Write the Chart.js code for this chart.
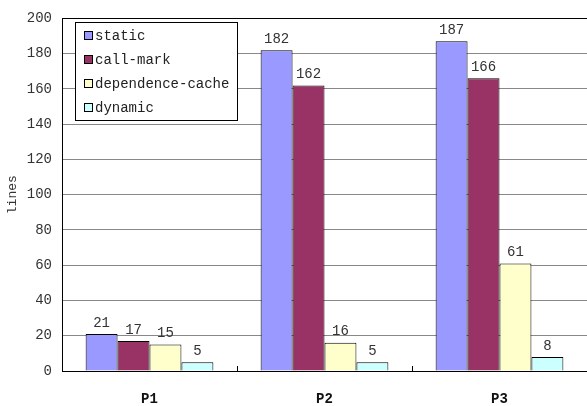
<!DOCTYPE html>
<html>
<head>
<meta charset="utf-8">
<script src="https://cdn.jsdelivr.net/npm/chart.js@4/dist/chart.umd.min.js"></script>
<style>
  html, body { margin: 0; padding: 0; background: #fff; }
  #wrap { width: 587px; height: 406px; }
</style>
</head>
<body>
<div id="wrap"><canvas id="linesChart"></canvas></div>
<script>
const categories = ["P1", "P2", "P3"];
const seriesNames = ["static", "call-mark", "dependence-cache", "dynamic"];
const staticLines = [21, 182, 187];
const callMarkLines = [17, 162, 166];
const depCacheLines = [15, 16, 61];
const dynamicLines = [5, 5, 8];
const colors = ["#9999FF", "#993366", "#FFFFCC", "#CCFFFF"];
const yTicks = [0, 20, 40, 60, 80, 100, 120, 140, 160, 180, 200];

const FONT = "'Liberation Mono', 'DejaVu Sans Mono', monospace";

// values above each bar
const valueLabels = {
    id: "valueLabels",
    afterDatasetsDraw(chart) {
        const ctx = chart.ctx;
        ctx.save();
        ctx.font = "14px " + FONT;
        ctx.fillStyle = "#333";
        ctx.textAlign = "center";
        ctx.textBaseline = "bottom";
        chart.data.datasets.forEach((ds, i) => {
            chart.getDatasetMeta(i).data.forEach((bar, j) => {
                ctx.fillText(String(ds.data[j]), bar.x, bar.y - 4);
            });
        });
        ctx.restore();
    }
};

// small ticks between categories, legend box inside plot
const extras = {
    id: "extras",
    afterDraw(chart) {
        const ctx = chart.ctx;
        const area = chart.chartArea;
        ctx.save();
        ctx.strokeStyle = "#000";
        ctx.lineWidth = 1;
        const step = (area.right - area.left) / categories.length;
        for (let i = 1; i < categories.length; i++) {
            const x = Math.round(area.left + step * i) + 0.5;
            ctx.beginPath();
            ctx.moveTo(x, area.bottom);
            ctx.lineTo(x, area.bottom - 5);
            ctx.stroke();
        }

        // legend
        const lx = 75, ly = 22, lw = 162, lh = 98;
        ctx.fillStyle = "#fff";
        ctx.fillRect(lx, ly, lw, lh);
        ctx.strokeStyle = "#000";
        ctx.strokeRect(lx + 0.5, ly + 0.5, lw, lh);
        ctx.font = "14px " + FONT;
        ctx.textBaseline = "middle";
        ctx.textAlign = "left";
        chart.data.datasets.forEach((ds, i) => {
            const y = ly + 13 + i * 24;
            ctx.fillStyle = ds.backgroundColor;
            ctx.fillRect(84, y - 4, 8, 8);
            ctx.strokeStyle = "#000";
            ctx.strokeRect(84.5, y - 3.5, 8, 8);
            ctx.fillStyle = "#222";
            ctx.fillText(ds.label, 95, y + 1);
        });
        ctx.restore();
    }
};

const allSeries = [staticLines, callMarkLines, depCacheLines, dynamicLines];

new Chart(document.getElementById("linesChart"), {
    type: "bar",
    data: {
        labels: categories,
        datasets: seriesNames.map((name, i) => ({
            label: name,
            data: allSeries[i],
            backgroundColor: colors[i],
            borderColor: "#000",
            borderWidth: 1,
            borderSkipped: "bottom",
            categoryPercentage: 0.73,
            barPercentage: 1.0
        }))
    },
    options: {
        responsive: true,
        maintainAspectRatio: false,
        animation: false,
        layout: { padding: { top: 13, right: 0, left: 0, bottom: 0 } },
        plugins: {
            legend: { display: false },
            tooltip: { enabled: false }
        },
        scales: {
            x: {
                grid: { display: false },
                border: { color: "#000", width: 1 },
                ticks: {
                    color: "#111",
                    padding: 12,
                    font: { family: FONT, size: 14, weight: "bold" }
                },
                afterFit(scale) { scale.height = 35; }
            },
            y: {
                min: 0,
                max: 200,
                afterBuildTicks(scale) {
                    scale.ticks = yTicks.map(v => ({ value: v }));
                },
                grid: {
                    color: ctx => (ctx.tick && ctx.tick.value === 200 ? "#000" : "#888"),
                    drawTicks: false
                },
                border: { color: "#000", width: 1 },
                ticks: {
                    color: "#333",
                    padding: 10,
                    font: { family: FONT, size: 14 }
                },
                title: {
                    display: true,
                    text: "lines",
                    color: "#333",
                    padding: { top: 5, bottom: 0 },
                    font: { family: FONT, size: 13 }
                },
                afterFit(scale) { scale.width = 62; }
            }
        }
    },
    plugins: [valueLabels, extras]
});
</script>
</body>
</html>
